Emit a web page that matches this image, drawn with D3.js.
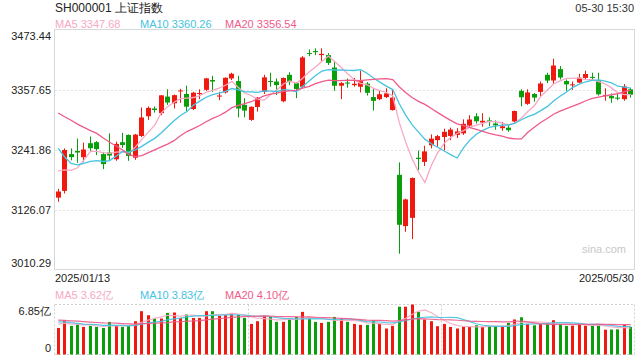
<!DOCTYPE html>
<html><head><meta charset="utf-8">
<script src="https://cdn.jsdelivr.net/npm/d3@7/dist/d3.min.js"></script>
<style>body{margin:0;background:#fff}svg{display:block;font-family:Arial,"Liberation Sans",sans-serif}</style>
</head><body><svg id="c" width="640" height="360"></svg>
<script>
// ---------- data ----------
const title = "SH000001 上证指数";
const timeLabel = "05-30 15:30";
const dates = ["2025/01/13","2025/01/14","2025/01/15","2025/01/16","2025/01/17","2025/01/20","2025/01/21","2025/01/22","2025/01/23","2025/01/24","2025/01/27",
"2025/02/05","2025/02/06","2025/02/07","2025/02/10","2025/02/11","2025/02/12","2025/02/13","2025/02/14","2025/02/17","2025/02/18","2025/02/19","2025/02/20","2025/02/21","2025/02/24","2025/02/25","2025/02/26","2025/02/27","2025/02/28",
"2025/03/03","2025/03/04","2025/03/05","2025/03/06","2025/03/07","2025/03/10","2025/03/11","2025/03/12","2025/03/13","2025/03/14","2025/03/17","2025/03/18","2025/03/19","2025/03/20","2025/03/21","2025/03/24","2025/03/25","2025/03/26","2025/03/27","2025/03/28","2025/03/31",
"2025/04/01","2025/04/02","2025/04/03","2025/04/07","2025/04/08","2025/04/09","2025/04/10","2025/04/11","2025/04/14","2025/04/15","2025/04/16","2025/04/17","2025/04/18","2025/04/21","2025/04/22","2025/04/23","2025/04/24","2025/04/25","2025/04/28","2025/04/29","2025/04/30",
"2025/05/06","2025/05/07","2025/05/08","2025/05/09","2025/05/12","2025/05/13","2025/05/14","2025/05/15","2025/05/16","2025/05/19","2025/05/20","2025/05/21","2025/05/22","2025/05/23","2025/05/26","2025/05/27","2025/05/28","2025/05/29","2025/05/30"];
const open = [3149,3162,3233,3239,3227,3254,3256,3233,3236,3223,3256,
3270,3226,3268,3306,3321,3312,3344,3331,3354,3349,3320,3349,3357,3376,3344,3352,3379,3374,
3328,3299,3324,3353,3374,3373,3335,3386,3370,3363,3428,3432,3424,3424,3400,3365,3371,3366,3363,3369,3343,
3339,3343,3318,3193,3094,3110,3226,3218,3250,3260,3266,3268,3270,3273,3288,3306,3294,3298,3292,3283,3284,
3296,3355,3330,3349,3353,3386,3375,3397,3374,3366,3371,3380,3382,3375,3345,3345,3342,3339,3358];
const high = [3166,3244,3244,3263,3255,3267,3258,3236,3273,3257,3274,
3271,3272,3323,3325,3325,3347,3358,3348,3359,3365,3353,3358,3380,3384,3353,3381,3390,3384,
3341,3325,3343,3386,3390,3379,3381,3391,3372,3422,3435,3437,3437,3428,3411,3372,3379,3380,3394,3372,3359,
3355,3360,3357,3217,3147,3188,3240,3249,3271,3270,3282,3284,3283,3300,3308,3312,3312,3304,3298,3295,3291,
3317,3358,3358,3351,3373,3390,3417,3403,3377,3373,3388,3394,3390,3390,3360,3350,3349,3368,3361];
const low = [3141,3157,3221,3216,3218,3238,3231,3204,3222,3220,3245,
3220,3222,3266,3299,3313,3308,3328,3321,3332,3316,3318,3339,3355,3353,3337,3350,3376,3304,
3304,3297,3315,3349,3363,3347,3333,3366,3341,3360,3422,3424,3413,3405,3355,3339,3361,3363,3352,3346,3317,
3337,3341,3317,3040.69,3083,3069,3202,3210,3244,3247,3240,3260,3264,3270,3286,3292,3286,3287,3280,3278,3276,
3292,3325,3328,3334,3344,3370,3368,3377,3355,3357,3370,3378,3374,3346,3336,3332,3337,3336,3342];
const close = [3160.76,3240.94,3227.12,3236.03,3241.82,3244.38,3242.62,3213.62,3230.16,3252.63,3250.60,
3229.49,3270.66,3303.67,3322.17,3318.06,3346.39,3332.48,3346.72,3355.83,3324.49,3351.54,3350.78,3379.11,3373.03,3346.04,3380.21,3388.06,3320.90,
3316.93,3324.21,3341.96,3381.10,3372.55,3366.16,3379.83,3371.92,3358.73,3419.56,3426.43,3429.76,3426.43,3408.95,3364.83,3370.03,3369.98,3368.70,3373.75,3351.31,3335.75,
3348.44,3350.13,3342.01,3096.58,3145.55,3186.81,3223.64,3238.23,3262.81,3267.66,3276.00,3280.34,3276.73,3291.43,3299.76,3296.36,3297.29,3295.06,3288.41,3286.65,3279.03,
3316.11,3342.67,3352.00,3342.00,3369.24,3374.87,3403.95,3380.82,3367.46,3367.58,3380.48,3387.57,3380.19,3348.37,3346.84,3340.69,3339.93,3363.45,3347.49];
// volume in 亿
const volume = [3.64,4.70,3.92,4.11,3.78,3.92,3.78,3.64,4.47,3.92,
3.78,3.92,4.56,5.93,5.38,4.93,4.93,5.70,5.75,5.01,
5.48,5.01,5.01,5.93,5.93,5.29,5.38,5.61,5.48,5.01,
4.19,4.56,5.29,5.15,4.47,4.47,4.84,5.15,5.84,4.93,
4.47,4.33,4.47,5.15,4.93,4.47,4.19,4.06,4.06,4.70,
4.19,3.56,3.92,6.55,6.55,6.85,5.84,4.79,4.56,3.88,
4.19,3.78,3.56,3.78,3.78,4.01,3.78,3.92,3.92,3.78,
4.33,4.80,5.10,4.19,4.00,4.19,4.30,4.70,4.20,3.92,
3.95,4.15,3.95,3.95,4.15,3.40,3.42,3.45,4.05,3.79];
// sessions before the window (Dec 16 2024 – Jan 10 2025), needed for the moving averages
const priorClose = [3386.33,3361.49,3382.21,3370.03,3368.07,3351.26,3393.53,3393.35,3398.08,3400.14,3407.33,3351.76,3262.56,3211.43,3206.92,3229.64,3230.17,3211.39,3168.52];
const priorVolume = [5.3,5.2,5.0,5.0,5.1,5.0,4.6,4.9,4.5,4.8,4.7,5.1,5.0,4.8,4.3,4.1,4.6,4.1,4.4];
const priceTicks = [3473.44,3357.65,3241.86,3126.07,3010.29];
const volTicks = [6.85,0];
const maPeriods = [5,10,20];
const maColors = ["#f7a8c4","#45c3e0","#ee5a8a"];

// ---------- layout ----------
const L = 55, R = 634, T = 29.5, B = 269.5, VT = 304.5, VB = 354.5;
const up = "#f0190f", down = "#0a9f0a";
const svg = d3.select("#c");
const x = d3.scaleBand().domain(dates).range([L, R]).padding(0);
const y = d3.scaleLinear().domain([priceTicks[4], priceTicks[0]]).range([B, T]);
const yv = d3.scaleLinear().domain([0, volTicks[0]]).range([VB, VT]);
const cx = d => x(d) + x.bandwidth() / 2;

function movingAvg(prior, vals, n) {
  const all = prior.concat(vals);
  return vals.map((v, i) => d3.mean(all.slice(prior.length + i - n + 1, prior.length + i + 1)));
}
const data = dates.map((d, i) => ({d, o: open[i], h: high[i], l: low[i], c: close[i], v: volume[i]}));
const priceMA = maPeriods.map(n => movingAvg(priorClose, close, n));
const volMA = maPeriods.map(n => movingAvg(priorVolume, volume, n));

// header
svg.append("text").attr("x", L).attr("y", 12).attr("font-size", 12).attr("fill", "#222").text(title);
svg.append("text").attr("x", R).attr("y", 12).attr("text-anchor", "end").attr("font-size", 11).attr("fill", "#333").text(timeLabel);
const legX = [L, 140, 225];
maPeriods.forEach((n, k) => {
  svg.append("text").attr("x", legX[k]).attr("y", 27.5).attr("font-size", 11).attr("fill", maColors[k])
    .text("MA" + n + " " + priceMA[k][priceMA[k].length - 1].toFixed(2));
  svg.append("text").attr("x", legX[k]).attr("y", 299).attr("font-size", 11).attr("fill", maColors[k])
    .text("MA" + n + " " + volMA[k][volMA[k].length - 1].toFixed(2) + "亿");
});

// main grid
svg.append("g").selectAll("line").data(priceTicks.slice(1, 4)).join("line")
  .attr("x1", L).attr("x2", R).attr("y1", d => Math.round(y(d)) + 0.5).attr("y2", d => Math.round(y(d)) + 0.5)
  .attr("stroke", "#e2e2e2").attr("stroke-dasharray", "2,2");
svg.append("rect").attr("x", L - 0.5).attr("y", T).attr("width", R - L + 1).attr("height", B - T)
  .attr("fill", "none").attr("stroke", "#d8d8d8");

// price axis labels
const yAxis = d3.axisLeft(y).tickValues(priceTicks).tickSize(0).tickPadding(4).tickFormat(d3.format(".2f"));
const ga = svg.append("g").attr("transform", `translate(${L},0)`).call(yAxis);
ga.select(".domain").remove();
ga.selectAll("text").attr("font-size", 11).attr("fill", "#222").attr("font-family", "Arial, 'Liberation Sans', sans-serif")
  .attr("dy", (d, i) => i === 0 ? "0.95em" : (i === priceTicks.length - 1 ? "-0.3em" : "0.32em"));

// watermark
svg.append("text").attr("x", 582).attr("y", 253).attr("font-size", 11).attr("fill", "#c8c8c8").text("sina.com");

// candles
const cg = svg.append("g");
cg.selectAll("line").data(data).join("line")
  .attr("x1", d => Math.floor(cx(d.d)) + 0.5).attr("x2", d => Math.floor(cx(d.d)) + 0.5)
  .attr("y1", d => y(d.h)).attr("y2", d => y(d.l))
  .attr("stroke", d => d.c >= d.o ? up : down).attr("stroke-width", 1);
cg.selectAll("rect").data(data).join("rect")
  .attr("x", d => Math.floor(cx(d.d)) - 2).attr("width", 5)
  .attr("y", d => y(Math.max(d.o, d.c)))
  .attr("height", d => Math.max(1, Math.abs(y(d.o) - y(d.c))))
  .attr("fill", d => d.c >= d.o ? up : down);

// MA lines (price)
const line = d3.line().x((v, i) => cx(dates[i])).y(v => y(v));
priceMA.forEach((arr, k) => {
  svg.append("path").attr("d", line(arr)).attr("fill", "none").attr("stroke", maColors[k]).attr("stroke-width", 1.3);
});

// date labels
svg.append("text").attr("x", L).attr("y", 282).attr("font-size", 11).attr("fill", "#222").text(dates[0]);
svg.append("text").attr("x", R).attr("y", 282).attr("text-anchor", "end").attr("font-size", 11).attr("fill", "#222").text(dates[dates.length - 1]);

// volume panel frame (dotted)
const vg = svg.append("g").attr("stroke", "#d0d0d0").attr("stroke-dasharray", "2,2");
[VT, VB].forEach(yy => vg.append("line").attr("x1", L).attr("x2", R).attr("y1", yy).attr("y2", yy));
[L - 0.5, R + 0.5, Math.round(x(dates[30])) + 0.5, Math.round(x(dates[60])) + 0.5].forEach(xx =>
  vg.append("line").attr("x1", xx).attr("x2", xx).attr("y1", VT).attr("y2", VB));

// volume axis labels
const vAxis = d3.axisLeft(yv).tickValues(volTicks).tickSize(0).tickPadding(4).tickFormat(d => d === 0 ? "0" : d.toFixed(2) + "亿");
const gv = svg.append("g").attr("transform", `translate(${L},0)`).call(vAxis);
gv.select(".domain").remove();
gv.selectAll("text").attr("font-size", 11).attr("fill", "#222").attr("font-family", "Arial, 'Liberation Sans', sans-serif")
  .attr("dy", (d, i) => i === 0 ? "0.95em" : "-0.25em");

// volume bars
svg.append("g").selectAll("rect").data(data).join("rect")
  .attr("x", d => Math.floor(cx(d.d)) - 1).attr("width", 3)
  .attr("y", d => yv(d.v)).attr("height", d => VB - yv(d.v))
  .attr("fill", d => d.c >= d.o ? up : down);

// volume MA lines
const vline = d3.line().x((v, i) => cx(dates[i])).y(v => yv(v));
volMA.forEach((arr, k) => {
  svg.append("path").attr("d", vline(arr)).attr("fill", "none").attr("stroke", maColors[k]).attr("stroke-width", 1.2).attr("opacity", 0.9);
});
</script></body></html>
